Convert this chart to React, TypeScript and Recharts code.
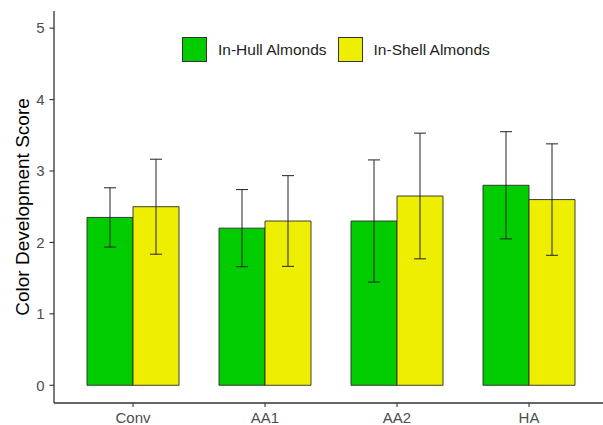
import React from 'react';
import { BarChart, Bar, XAxis, YAxis, ErrorBar, Legend } from 'recharts';

// Treatments on the x axis
const categories = ['Conv', 'AA1', 'AA2', 'HA'];

// Mean color development scores
const inHull = [2.35, 2.2, 2.3, 2.8];
const inShell = [2.5, 2.3, 2.65, 2.6];

// Error bar half-lengths (±)
const inHullErr = [0.415, 0.54, 0.855, 0.75];
const inShellErr = [0.665, 0.635, 0.88, 0.78];

const yTicks = [0, 1, 2, 3, 4, 5];

const seriesNames = ['In-Hull Almonds', 'In-Shell Almonds'];
const GREEN = '#00CC00';
const YELLOW = '#EEEE00';
const FONT = '"Liberation Sans", Arial, Helvetica, sans-serif';

const data = categories.map((c, i) => ({
  cat: c,
  hull: inHull[i],
  shell: inShell[i],
  hullErr: inHullErr[i],
  shellErr: inShellErr[i],
}));

const LegendBoxes = () => (
  <div style={{ display: 'flex', alignItems: 'center', fontFamily: FONT, fontSize: 15.5, color: '#222', whiteSpace: 'nowrap' }}>
    {[GREEN, YELLOW].map((col, i) => (
      <div key={i} style={{ display: 'flex', alignItems: 'center', marginRight: i === 0 ? 11 : 0 }}>
        <div style={{ width: 25, height: 25, background: col, border: '1px solid #333', boxSizing: 'border-box' }} />
        <span style={{ marginLeft: 11 }}>{seriesNames[i]}</span>
      </div>
    ))}
  </div>
);

const YTitle = (props: any) => {
  const vb = props.viewBox || { x: 0, y: 11, width: 54, height: 392 };
  const cx = 22.5;
  const cy = vb.y + vb.height / 2;
  return (
    <text
      x={cx}
      y={cy}
      transform={`rotate(-90, ${cx}, ${cy})`}
      textAnchor="middle"
      dominantBaseline="central"
      fontFamily={FONT}
      fontSize={19}
      fill="#000"
    >
      Color Development Score
    </text>
  );
};

export default function App() {
  return (
    <div style={{ position: 'fixed', left: 0, top: 0, width: 603, height: 425, overflow: 'hidden', background: '#fff' }}>
      <BarChart
        width={608}
        height={425}
        data={data}
        margin={{ top: 11, right: 0, bottom: 0, left: 0 }}
        barGap={0}
        barSize={46}
      >
        <XAxis
          dataKey="cat"
          padding={{ left: 13, right: 13 }}
          height={22}
          tickSize={4}
          tickMargin={5}
          axisLine={{ stroke: '#333', strokeWidth: 1.3 }}
          tickLine={{ stroke: '#333', strokeWidth: 1.1 }}
          tick={{ fill: '#4d4d4d', fontSize: 15, fontFamily: FONT }}
        />
        <YAxis
          type="number"
          domain={[-0.248, 5.24]}
          ticks={yTicks}
          width={54}
          tickSize={4.5}
          tickMargin={5}
          interval={0}
          axisLine={{ stroke: '#333', strokeWidth: 1.3 }}
          tickLine={{ stroke: '#333', strokeWidth: 1.1 }}
          tick={{ fill: '#4d4d4d', fontSize: 15, fontFamily: FONT }}
          label={{ content: YTitle }}
        />
        <Legend
          layout="horizontal"
          verticalAlign="middle"
          align="center"
          content={LegendBoxes}
          wrapperStyle={{ top: 37, left: 182, width: 'auto' }}
        />
        <Bar dataKey="hull" name={seriesNames[0]} fill={GREEN} stroke="#2a2a2a" strokeWidth={0.9} isAnimationActive={false}>
          <ErrorBar dataKey="hullErr" width={6} stroke="#222" strokeWidth={1} direction="y" />
        </Bar>
        <Bar dataKey="shell" name={seriesNames[1]} fill={YELLOW} stroke="#2a2a2a" strokeWidth={0.9} isAnimationActive={false}>
          <ErrorBar dataKey="shellErr" width={6} stroke="#222" strokeWidth={1} direction="y" />
        </Bar>
      </BarChart>
    </div>
  );
}
